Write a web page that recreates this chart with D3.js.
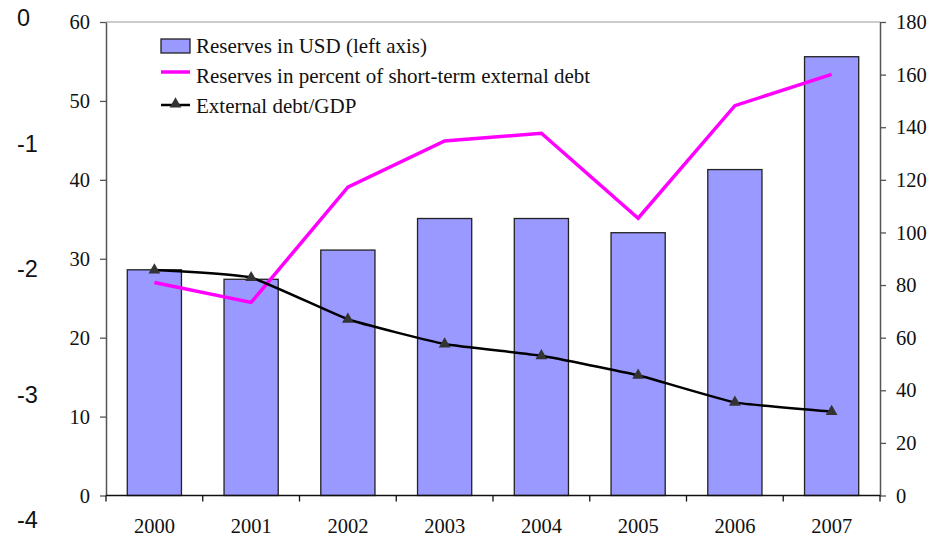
<!DOCTYPE html>
<html>
<head>
<meta charset="utf-8">
<script src="https://cdn.jsdelivr.net/npm/d3@7"></script>
<style>
  html, body { margin: 0; padding: 0; background: #fff; }
  svg { display: block; }
  .serif { font-family: "Liberation Serif", "Times New Roman", serif; }
  .sans { font-family: "Liberation Sans", Arial, sans-serif; }
</style>
</head>
<body>
<svg id="chart" width="941" height="539"></svg>
<script>
// Years on the category axis
const years = ["2000", "2001", "2002", "2003", "2004", "2005", "2006", "2007"];
// Reserves in USD bn (left axis)
const reservesUSD = [28.6, 27.4, 31.1, 35.1, 35.1, 33.3, 41.3, 55.6];
// Reserves in percent of short-term external debt (right axis)
const reservesPctShortTerm = [81.0, 73.4, 117.2, 134.8, 137.7, 105.4, 148.2, 160.1];
// External debt to GDP, percent (right axis)
const externalDebtGDP = [85.7, 82.8, 67.0, 57.6, 53.1, 45.7, 35.4, 31.9];

const leftTicks = [0, 10, 20, 30, 40, 50, 60];
const rightTicks = [0, 20, 40, 60, 80, 100, 120, 140, 160, 180];
const outerTicks = [0, -1, -2, -3, -4];

const legendLabels = [
  "Reserves in USD (left axis)",
  "Reserves in percent of short-term external debt",
  "External debt/GDP"
];

const svg = d3.select("#chart");
const plot = { left: 106, right: 880, top: 22, bottom: 495.5 };

const x = d3.scaleBand().domain(years)
  .range([plot.left, plot.right]).paddingInner(0.44).paddingOuter(0.22);
const yL = d3.scaleLinear().domain([0, 60]).range([plot.bottom, plot.top]);
const yR = d3.scaleLinear().domain([0, 180]).range([plot.bottom, plot.top]);
const yOuter = d3.scaleLinear().domain([0, -4]).range([18, 519.5]);

// Top border of the plot area
svg.append("line")
  .attr("x1", plot.left).attr("x2", plot.right)
  .attr("y1", plot.top).attr("y2", plot.top)
  .attr("stroke", "#999").attr("stroke-width", 1.2);

// Bars
svg.append("g").selectAll("rect").data(years).join("rect")
  .attr("x", d => x(d))
  .attr("width", x.bandwidth())
  .attr("y", (d, i) => yL(reservesUSD[i]))
  .attr("height", (d, i) => yL(0) - yL(reservesUSD[i]))
  .attr("fill", "#9999FF")
  .attr("stroke", "#222")
  .attr("stroke-width", 1.3);

// Left axis
const gL = svg.append("g").attr("class", "serif")
  .attr("transform", `translate(${plot.left},0)`)
  .call(d3.axisLeft(yL).tickValues(leftTicks).tickSize(6).tickPadding(10).tickSizeOuter(0));
// Right axis
const gR = svg.append("g").attr("class", "serif")
  .attr("transform", `translate(${plot.right},0)`)
  .call(d3.axisRight(yR).tickValues(rightTicks).tickSize(6).tickPadding(10).tickSizeOuter(0));
[gL, gR].forEach(g => {
  g.select(".domain").attr("stroke", "#555").attr("stroke-width", 1.5);
  g.selectAll(".tick line").attr("stroke", "#555").attr("stroke-width", 1.3);
  g.selectAll("text").attr("font-size", 20.5).attr("fill", "#111")
    .attr("font-family", "Liberation Serif, Times New Roman, serif");
});

// Category axis: ticks at band boundaries, labels at band centres
const step = x.step();
const boundaries = d3.range(years.length + 1).map(i => plot.left + i * step);
const gX = svg.append("g");
gX.append("line")
  .attr("x1", plot.left).attr("x2", plot.right)
  .attr("y1", plot.bottom).attr("y2", plot.bottom)
  .attr("stroke", "#111").attr("stroke-width", 1.5);
gX.selectAll("line.tk").data(boundaries).join("line").attr("class", "tk")
  .attr("x1", d => d).attr("x2", d => d)
  .attr("y1", plot.bottom).attr("y2", plot.bottom + 6)
  .attr("stroke", "#111").attr("stroke-width", 1.3);
gX.selectAll("text").data(years).join("text")
  .attr("class", "serif")
  .attr("x", d => x(d) + x.bandwidth() / 2)
  .attr("y", 533)
  .attr("text-anchor", "middle")
  .attr("font-size", 20.5).attr("fill", "#111")
  .text(d => d);

// Outer scale labels on the far left
svg.append("g").selectAll("text").data(outerTicks).join("text")
  .attr("class", "sans")
  .attr("x", 17)
  .attr("y", d => yOuter(d))
  .attr("dy", "0.36em")
  .attr("font-size", 23.5).attr("fill", "#111")
  .text(d => d);

const cx = (d, i) => x(years[i]) + x.bandwidth() / 2;

// Reserves as percent of short-term debt
svg.append("path")
  .datum(reservesPctShortTerm)
  .attr("fill", "none").attr("stroke", "#FF00FF").attr("stroke-width", 3.5)
  .attr("stroke-linejoin", "miter")
  .attr("d", d3.line().x(cx).y(d => yR(d)));

// External debt / GDP (lightly smoothed)
svg.append("path")
  .datum(externalDebtGDP)
  .attr("fill", "none").attr("stroke", "#000").attr("stroke-width", 2.5)
  .attr("d", d3.line().x(cx).y(d => yR(d)).curve(d3.curveCardinal.tension(0.6)));

const tri = d3.symbol().type(d3.symbolTriangle).size(60);
svg.append("g").selectAll("path").data(externalDebtGDP).join("path")
  .attr("transform", (d, i) => `translate(${cx(d, i)},${yR(d)})`)
  .attr("d", tri)
  .attr("fill", "#333");

// Legend
const lg = svg.append("g");
const lx = 161, lw = 29, tx = 196;
lg.append("rect").attr("x", lx).attr("y", 39).attr("width", lw).attr("height", 14)
  .attr("fill", "#9999FF").attr("stroke", "#222").attr("stroke-width", 1.3);
lg.append("line").attr("x1", lx).attr("x2", lx + lw).attr("y1", 72).attr("y2", 72)
  .attr("stroke", "#FF00FF").attr("stroke-width", 3.5);
lg.append("line").attr("x1", lx).attr("x2", lx + lw).attr("y1", 105).attr("y2", 105)
  .attr("stroke", "#000").attr("stroke-width", 2.5);
lg.append("path").attr("transform", `translate(${lx + lw / 2},104)`)
  .attr("d", tri).attr("fill", "#333");
lg.selectAll("text").data(legendLabels).join("text")
  .attr("class", "serif")
  .attr("x", tx)
  .attr("y", (d, i) => 53 + i * 30)
  .attr("font-size", 21).attr("fill", "#111")
  .text(d => d);
</script>
</body>
</html>
